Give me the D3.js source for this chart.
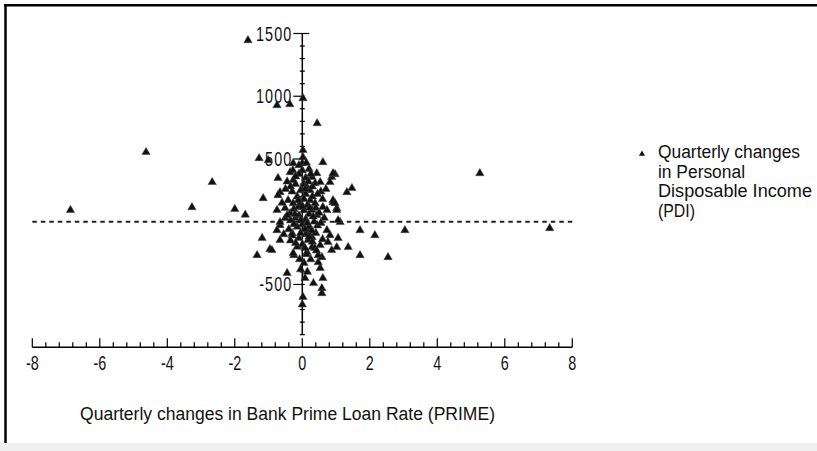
<!DOCTYPE html>
<html>
<head>
<meta charset="utf-8">
<script src="https://cdn.jsdelivr.net/npm/d3@7"></script>
<style>
body { margin:0; background:#ffffff; }
svg text { font-family:"Liberation Sans",Arial,sans-serif; fill:#111; }
</style>
</head>
<body>
<svg id="scatter"></svg>
<script>
//quarterly changes: [PRIME change, PDI change]
var pdiPoints = [
    [-6.87,92],[-4.63,554],[-3.27,115],[-2.67,315],[-2.0,100],[-1.69,55],[5.26,386],[7.33,-52],
    [-1.61,1446],[-0.75,928],[-0.37,936],[0.02,983],[0.44,784],[-1.28,506],[-1.01,490],[0.61,474],
    [1.71,-68],[2.15,-108],[3.04,-68],[1.36,-203],[1.71,-267],[2.54,-283],[-1.34,-267],[-0.96,-219],
    [-1.19,-131],[-0.66,-147],[-0.25,-267],[0.87,-227],[0.91,155],[1.02,107],[1.12,-4],[1.32,235],
    [1.47,267],[0.87,355],[0.97,378],[-1.16,187],[-0.72,347],[-0.28,410],[0.61,-450],[0.33,-490],
    [0.58,-530],[0.58,-570],[-0.45,-410],[0.02,-600],[0.0,-660],[0.08,-450],[0.53,-370],[0.47,-323],
    [0.58,-283],[1.02,-203],[-0.27,-251],[-0.9,-227],[0.14,-243],[0.29,-203],[0.37,-211],[0.76,-163],
    [0.82,-108],[1.06,-131],[0.73,-68],[-0.66,-28],[-0.75,-68],[-0.3,-92],[0.17,-84],[0.29,-124],
    [0.17,-147],[0.53,-187],[0.47,-267],[-0.36,394],[-0.27,331],[0.29,355],[0.43,386],[0.91,386],
    [0.82,315],[0.38,306],[0.53,315],[-0.66,235],[-0.72,211],[-0.51,108],[-0.75,92],[0.91,171],
    [0.97,147],[1.02,92],[0.61,116],[0.73,92],[0.0,410],[0.0,466],[0.02,514],[0.02,570],
    [-0.27,466],[0.14,275],[0.23,251],[-0.42,171],[-0.27,147],[-0.12,116],[-0.36,68],[-0.21,28],
    [0.23,171],[0.38,147],[0.29,92],[0.43,52],[1.06,12],[-0.51,28],[-0.66,-4],
    [-0.1,380],[0.1,350],[-0.2,300],[0.05,300],[0.2,420],[-0.05,250],[0.1,220],[-0.3,240],
    [-0.15,200],[0.3,200],[0.05,180],[-0.05,150],[0.15,130],[-0.25,100],[0.05,90],[0.2,60],
    [-0.1,50],[0.1,20],[-0.35,10],[0.35,0],[0.0,-20],[-0.15,-40],[0.2,-40],[0.45,-30],
    [-0.4,-60],[0.1,-100],[-0.1,-130],[0.4,-90],[0.0,-180],[-0.15,-200],[0.25,-300],[0.05,-330],
    [-0.05,-380],[0.15,-400],[0.55,240],[0.6,180],[0.45,220],[-0.5,260],[-0.45,320],[0.65,30],
    [0.55,-10],[-0.55,-100],[0.6,-140],[-0.2,-170],[0.3,280],[0.25,380],[-0.1,450],[0.12,470],
    [0.7,260],[-0.6,150],[0.4,110],[0.5,70],[-0.45,50],[0.0,120],[0.08,-60],[-0.3,-110],
    [0.3,-160],[0.12,-260],[-0.08,-300],[0.42,-230],
    [-0.2,360],[0.18,320],[-0.35,280],[0.08,260],[-0.12,170],[0.22,110],[-0.22,60],[0.32,40],
    [-0.05,10],[0.15,-10],[-0.25,-20],[0.28,-70],[-0.05,-90],[0.2,-120],[-0.35,-150],[0.08,-210]
];

//tick values
var xMajorTicks = [-8,-6,-4,-2,0,2,4,6,8];
var xMinorTicks = d3.range(-80,81,4).map(function(d){return d/10;});
var yLabelTicks = [1500,1000,500,-500];
var yMinorTicks = d3.range(-900,1501,100);

var xTitle = "Quarterly changes in Bank Prime Loan Rate (PRIME)";
var legendLines = ["Quarterly changes","in Personal","Disposable Income","(PDI)"];
var legendWidths = [142,87,154,37];

var screen = {width:817, height:451};

var svg = d3.select("#scatter")
    .attr("width",screen.width)
    .attr("height",screen.height);

var xScale = d3.scaleLinear()
    .domain([-8,8])
    .range([32.3,572.3]);

var yScale = d3.scaleLinear()
    .domain([-1000,1500])
    .range([347.2,33.5]);

//frame: top and left rule, grey strip at the bottom
svg.append("rect")
    .attr("x",0).attr("y",443)
    .attr("width",screen.width).attr("height",8)
    .attr("fill","#f0f0f0");
svg.append("line")
    .attr("x1",4).attr("x2",screen.width)
    .attr("y1",5.2).attr("y2",5.2)
    .attr("stroke","#000").attr("stroke-width",2.5);
svg.append("line")
    .attr("x1",5.5).attr("x2",5.5)
    .attr("y1",4).attr("y2",443)
    .attr("stroke","#000").attr("stroke-width",2.5);

//zero line
svg.append("line")
    .attr("x1",xScale(-8)).attr("x2",xScale(8.1))
    .attr("y1",yScale(0)).attr("y2",yScale(0))
    .attr("stroke","#222").attr("stroke-width",2)
    .attr("stroke-dasharray","4.5,4");

//x axis, ticks pointing up
var xAxisY = yScale(-1000);
var xAxisG = svg.append("g");
xAxisG.append("line")
    .attr("x1",xScale(-8)).attr("x2",xScale(8))
    .attr("y1",xAxisY).attr("y2",xAxisY)
    .attr("stroke","#000").attr("stroke-width",1.5);
xAxisG.selectAll(".minor")
    .data(xMinorTicks)
    .enter()
    .append("line")
    .attr("x1",function(d){return xScale(d);})
    .attr("x2",function(d){return xScale(d);})
    .attr("y1",xAxisY)
    .attr("y2",function(d){return xMajorTicks.indexOf(d)>=0 ? xAxisY-9 : xAxisY-5;})
    .attr("stroke","#000").attr("stroke-width",1.2);
//narrow looking labels: squeeze horizontally
xAxisG.selectAll("text")
    .data(xMajorTicks)
    .enter()
    .append("text")
    .attr("transform",function(d){return "translate("+xScale(d)+","+(xAxisY+23)+") scale(0.72,1)";})
    .attr("text-anchor","middle")
    .style("font-size","20px")
    .text(function(d){return d;});

//y axis through zero
var yAxisX = xScale(0);
var yAxisG = svg.append("g");
yAxisG.append("line")
    .attr("x1",yAxisX).attr("x2",yAxisX)
    .attr("y1",yScale(1500)).attr("y2",yScale(-900))
    .attr("stroke","#000").attr("stroke-width",1.5);
yAxisG.selectAll(".minor")
    .data(yMinorTicks)
    .enter()
    .append("line")
    .attr("x1",function(d){return d%500==0 ? yAxisX-9 : yAxisX-2.5;})
    .attr("x2",function(d){return d==1500 ? yAxisX+7 : yAxisX+2.5;})
    .attr("y1",function(d){return yScale(d);})
    .attr("y2",function(d){return yScale(d);})
    .attr("stroke","#000").attr("stroke-width",1.2);
yAxisG.selectAll("text")
    .data(yLabelTicks)
    .enter()
    .append("text")
    .attr("transform",function(d){return "translate("+(yAxisX-10)+","+(yScale(d)+7)+") scale(0.72,1)";})
    .attr("text-anchor","end")
    .attr("letter-spacing","1.5")
    .style("font-size","20px")
    .text(function(d){return d;});

//axis title
svg.append("text")
    .attr("x",80)
    .attr("y",420)
    .attr("textLength",415)
    .attr("lengthAdjust","spacingAndGlyphs")
    .style("font-size","18px")
    .text(xTitle);

//points
var triangle = d3.symbol().type(d3.symbolTriangle).size(30);
svg.append("g")
    .selectAll("path")
    .data(pdiPoints)
    .enter()
    .append("path")
    .attr("d",triangle)
    .attr("transform",function(d){return "translate("+xScale(d[0])+","+yScale(d[1])+")";})
    .attr("fill","#111")
    .attr("stroke","#444")
    .attr("stroke-width",0.5);

//legend
var legend = svg.append("g");
legend.append("path")
    .attr("d",d3.symbol().type(d3.symbolTriangle).size(16))
    .attr("transform","translate(642,154)")
    .attr("fill","#111");
legend.selectAll("text")
    .data(legendLines)
    .enter()
    .append("text")
    .attr("x",658)
    .attr("y",function(d,i){return 158+i*19.5;})
    .attr("textLength",function(d,i){return legendWidths[i];})
    .attr("lengthAdjust","spacingAndGlyphs")
    .style("font-size","18px")
    .text(function(d){return d;});
</script>
</body>
</html>
